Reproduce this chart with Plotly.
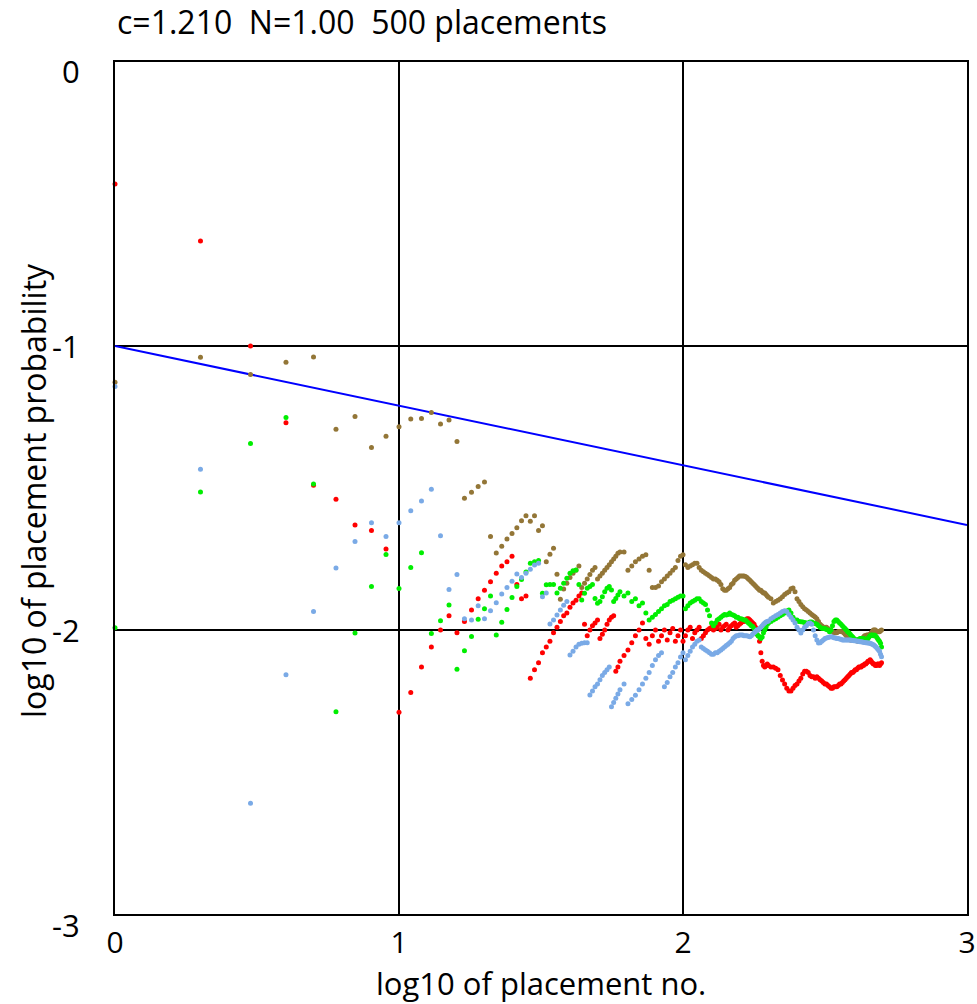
import plotly.graph_objects as go
import numpy as np

# ---------------- data ----------------
c_value = 1.210
N_value = 1.00
n_placements = 500

placements = list(range(1, 61)) + list(range(62, 201, 2)) + list(range(204, 501, 4))

# log10 of placement probability, one list per run
red_vals = [
    -0.43, -0.63, -1.00, -1.27, -1.49, -1.54, -1.63, -1.65, -1.715, -2.29,
    -2.22, -2.13, -2.06, -2.00, -1.95, -2.01, -1.97, -1.93, -1.89, -1.86,
    -1.83, -1.80, -1.775, -1.76, -1.74, -1.84, -1.89, -1.88, -2.17, -2.14,
    -2.115, -2.08, -2.06, -2.04, -2.01, -1.99, -1.97, -1.95, -1.94, -1.92,
    -1.905, -1.895, -1.88, -1.87, -1.98, -2.02, -2.00, -1.985, -1.975, -1.965,
    -2.03, -2.015, -2.00, -1.98, -1.965, -1.955, -1.95, -2.145, -2.13, -2.11,
    -2.09, -2.07, -2.045, -2.02, -2.00, -1.975, -2.03, -2.05, -2.02, -2.00,
    -2.04, -2.02, -2.00, -2.035, -2.01, -1.995, -2.04, -2.02, -2.00, -2.04,
    -2.02, -2.00, -1.99, -2.03, -2.01, -2.00, -1.99, -2.03, -2.02, -2.01,
    -2.00, -1.995, -1.99, -2.00, -1.995, -1.99, -1.98, -2.00, -1.99, -1.985,
    -1.98, -2.00, -1.99, -1.985, -1.98, -1.975, -1.99, -1.985, -1.98, -1.975,
    -1.97, -1.97, -1.965, -1.96, -1.96, -1.965, -1.97, -1.975, -1.98, -1.99,
    -2.00, -2.02, -2.04, -2.08, -2.11, -2.125, -2.13, -2.125, -2.12, -2.125,
    -2.13, -2.13, -2.135, -2.14, -2.16, -2.176, -2.19, -2.205, -2.215, -2.215,
    -2.205, -2.195, -2.19, -2.18, -2.17, -2.155, -2.145, -2.145, -2.15, -2.16,
    -2.165, -2.165, -2.17, -2.165, -2.17, -2.175, -2.18, -2.185, -2.19, -2.19,
    -2.195, -2.20, -2.205, -2.205, -2.20, -2.20, -2.20, -2.195, -2.19, -2.19,
    -2.185, -2.18, -2.175, -2.17, -2.165, -2.16, -2.155, -2.15, -2.15, -2.145,
    -2.14, -2.14, -2.135, -2.13, -2.13, -2.13, -2.125, -2.125, -2.12, -2.12,
    -2.115, -2.11, -2.11, -2.105, -2.11, -2.115, -2.12, -2.12, -2.125, -2.125,
    -2.12, -2.12, -2.125, -2.12, -2.115,
]

brown_vals = [
    -1.128, -1.04, -1.10, -1.057, -1.039, -1.293, -1.248, -1.357, -1.318, -1.284,
    -1.257, -1.255, -1.234, -1.275, -1.261, -1.336, -1.536, -1.515, -1.495, -1.479,
    -1.671, -1.729, -1.705, -1.68, -1.66, -1.64, -1.615, -1.598, -1.617, -1.598,
    -1.65, -1.633, -1.76, -1.733, -1.712, -1.804, -1.892, -1.856, -1.835, -1.815,
    -1.80, -1.79, -1.775, -1.85, -1.835, -1.82, -1.805, -1.79, -1.78, -1.82,
    -1.81, -1.80, -1.79, -1.78, -1.77, -1.76, -1.75, -1.74, -1.73, -1.725,
    -1.725, -1.79, -1.775, -1.76, -1.75, -1.74, -1.735, -1.79, -1.85, -1.85,
    -1.845, -1.83, -1.82, -1.81, -1.80, -1.79, -1.78, -1.755, -1.74, -1.735,
    -1.77, -1.78, -1.775, -1.77, -1.765, -1.765, -1.78, -1.79, -1.795, -1.80,
    -1.805, -1.81, -1.815, -1.82, -1.82, -1.825, -1.83, -1.84, -1.855, -1.86,
    -1.86, -1.855, -1.85, -1.84, -1.835, -1.825, -1.82, -1.815, -1.81, -1.81,
    -1.81, -1.81, -1.812, -1.815, -1.82, -1.825, -1.83, -1.835, -1.84, -1.845,
    -1.85, -1.855, -1.86, -1.86, -1.865, -1.87, -1.87, -1.875, -1.88, -1.885,
    -1.89, -1.905, -1.90, -1.895, -1.89, -1.883, -1.875, -1.87, -1.865, -1.855,
    -1.852, -1.865, -1.89, -1.90, -1.91, -1.918, -1.925, -1.93, -1.935, -1.94,
    -1.945, -1.95, -1.954, -1.96, -1.97, -1.98, -1.985, -1.99, -1.99, -1.99,
    -1.995, -2.0, -2.0, -2.005, -2.01, -2.01, -2.01, -2.005, -2.005, -2.005,
    -2.006, -2.01, -2.015, -2.02, -2.025, -2.03, -2.035, -2.035, -2.035, -2.035,
    -2.035, -2.035, -2.04, -2.04, -2.035, -2.03, -2.03, -2.025, -2.02, -2.02,
    -2.018, -2.018, -2.018, -2.015, -2.01, -2.005, -2.0, -2.0, -2.0, -2.005,
    -2.005, -2.006, -2.006, -2.003, -2.0,
]

green_vals = [
    -1.992, -1.514, -1.343, -1.252, -1.486, -2.288, -2.011, -1.847, -1.734, -1.854,
    -1.78, -1.728, -2.012, -1.967, -1.912, -2.138, -2.073, -2.023, -1.962, -1.925,
    -1.88, -2.018, -1.973, -1.928, -1.886, -1.847, -1.822, -1.796, -1.765, -1.76,
    -1.755, -1.871, -1.841, -1.84, -1.84, -1.87, -1.853, -1.835, -1.818, -1.80,
    -1.791, -1.789, -1.84, -1.894, -1.871, -1.853, -1.847, -1.84, -1.889, -1.906,
    -1.90, -1.883, -1.865, -1.853, -1.847, -1.859, -1.90, -1.889, -1.877, -1.865,
    -1.88, -1.87, -1.90, -1.89, -1.915, -1.905, -1.94, -1.965, -1.955, -1.945,
    -1.935, -1.925, -1.915, -1.91, -1.90, -1.895, -1.89, -1.885, -1.88, -1.88,
    -1.925, -1.915, -1.905, -1.90, -1.895, -1.89, -1.89, -1.90, -1.905, -1.91,
    -1.93, -1.95, -1.975, -1.985, -1.975, -1.965, -1.96, -1.955, -1.95, -1.945,
    -1.947, -1.945, -1.94, -1.945, -1.947, -1.95, -1.955, -1.955, -1.96, -1.96,
    -1.962, -1.965, -1.965, -1.97, -1.975, -1.98, -1.985, -1.988, -1.995, -2.005,
    -2.015, -2.02, -2.025, -2.03, -2.025, -2.01, -2.0, -1.99, -1.98, -1.975,
    -1.97, -1.965, -1.96, -1.955, -1.95, -1.945, -1.94, -1.933, -1.93, -1.94,
    -1.955, -1.965, -1.965, -1.97, -1.971, -1.972, -1.974, -1.975, -1.975, -1.972,
    -1.972, -1.975, -1.977, -1.98, -1.985, -1.99, -1.994, -1.995, -1.995, -1.998,
    -2.0, -2.006, -2.0, -1.985, -1.97, -1.965, -1.965, -1.97, -1.975, -1.98,
    -1.985, -1.99, -1.995, -2.0, -2.006, -2.01, -2.015, -2.02, -2.025, -2.03,
    -2.035, -2.035, -2.035, -2.033, -2.03, -2.03, -2.03, -2.03, -2.032, -2.035,
    -2.035, -2.03, -2.025, -2.02, -2.018, -2.018, -2.02, -2.018, -2.02, -2.025,
    -2.03, -2.035, -2.04, -2.047, -2.06,
]

blue_vals = [
    -1.143, -1.434, -2.61, -2.158, -1.935, -1.782, -1.688, -1.622, -1.671, -1.622,
    -1.58, -1.546, -1.504, -1.668, -1.857, -1.805, -1.96, -1.965, -1.915, -1.96,
    -1.932, -1.904, -1.873, -1.85, -1.828, -1.803, -1.815, -1.80, -1.786, -1.771,
    -1.765, -1.883, -1.87, -1.979, -1.965, -1.947, -1.93, -1.913, -1.90, -2.088,
    -2.075, -2.06, -2.05, -2.047, -2.045, -2.045, -2.229, -2.215, -2.20, -2.19,
    -2.175, -2.16, -2.15, -2.14, -2.13, -2.27, -2.255, -2.24, -2.225, -2.21,
    -2.19, -2.26, -2.245, -2.23, -2.21, -2.19, -2.17, -2.15, -2.125, -2.105,
    -2.09, -2.08, -2.20, -2.185, -2.165, -2.15, -2.13, -2.115, -2.095, -2.08,
    -2.105, -2.09, -2.075, -2.06, -2.05, -2.04, -2.035, -2.06, -2.065, -2.07,
    -2.075, -2.08, -2.085, -2.085, -2.08, -2.08, -2.075, -2.07, -2.065, -2.06,
    -2.055, -2.05, -2.045, -2.04, -2.03, -2.025, -2.02, -2.02, -2.018, -2.018,
    -2.018, -2.02, -2.02, -2.02, -2.022, -2.024, -2.02, -2.015, -2.01, -2.005,
    -2.0, -2.0, -1.995, -1.99, -1.985, -1.98, -1.975, -1.972, -1.97, -1.968,
    -1.96, -1.955, -1.95, -1.945, -1.94, -1.935, -1.932, -1.935, -1.945, -1.955,
    -1.965, -1.975, -1.99, -2.0, -2.011, -2.0, -1.99, -1.985, -1.977, -1.975,
    -1.98, -2.0, -2.02, -2.035, -2.046, -2.045, -2.04, -2.035, -2.03, -2.028,
    -2.026, -2.025, -2.024, -2.025, -2.027, -2.028, -2.03, -2.03, -2.032, -2.033,
    -2.035, -2.035, -2.035, -2.035, -2.035, -2.035, -2.035, -2.036, -2.037, -2.038,
    -2.038, -2.039, -2.04, -2.04, -2.041, -2.041, -2.042, -2.043, -2.044, -2.045,
    -2.045, -2.046, -2.046, -2.047, -2.048, -2.05, -2.052, -2.055, -2.058, -2.062,
    -2.066, -2.07, -2.075, -2.085, -2.094,
]

series = [
    ("red", red_vals, "#ff0000"),
    ("brown", brown_vals, "#937637"),
    ("green", green_vals, "#00ee00"),
    ("blue", blue_vals, "#7aaae6"),
]

x_ticks = [0, 1, 2, 3]
y_ticks = [0, -1, -2, -3]

# ---------------- figure ----------------
log_n = np.log10(np.array(placements, dtype=float))

fig = go.Figure()

# reference line  log10 p = -1 - (c-1) * log10 n
ref_x = np.array([0.0, 3.0])
ref_y = -1.0 - (c_value - 1.0) * ref_x
fig.add_trace(go.Scatter(x=ref_x, y=ref_y, mode="lines",
                         line=dict(color="#0000ff", width=2), showlegend=False,
                         hoverinfo="skip"))

for name, vals, col in series:
    if len(vals) != len(placements):
        raise ValueError(f"{name}: {len(vals)} values vs {len(placements)} placements")
    fig.add_trace(go.Scatter(x=log_n, y=vals, mode="markers", name=name,
                             marker=dict(color=col, size=5, line=dict(width=0)),
                             showlegend=False, cliponaxis=False))

font_family = "Open Sans, Liberation Sans, sans-serif"
TXT = 32

axis_common = dict(
    showgrid=True, gridcolor="black", gridwidth=2,
    showline=True, mirror=True, linecolor="black", linewidth=2,
    zeroline=False, ticks="", automargin=False,
    tickfont=dict(size=30, color="black", family=font_family),
)

PLOT_H = 852.0
PLOT_W = 852.0

# y tick labels as annotations (the end labels sit a little inside in the original)
y_label_shift = {0: -9, -1: 0, -2: 0, -3: -11}
y_tick_annotations = [
    dict(text=str(t), xref="paper", yref="y", x=0, y=t, xanchor="right", yanchor="middle",
         xshift=-33, yshift=y_label_shift[t], showarrow=False,
         font=dict(size=31, color="black", family=font_family))
    for t in y_ticks
]

fig.update_layout(
    width=977, height=1004,
    margin=dict(l=115, r=10, t=62, b=90, autoexpand=False),
    paper_bgcolor="white", plot_bgcolor="white",
    font=dict(family=font_family, color="black"),
    xaxis=dict(range=[0, 3], tickvals=x_ticks, ticktext=[str(t) for t in x_ticks],
               ticklabelstandoff=1, **axis_common),
    yaxis=dict(range=[-3, 0], tickvals=y_ticks, showticklabels=False, **axis_common),
    annotations=y_tick_annotations + [
        dict(text=f"c={c_value:.3f}  N={N_value:.2f}  {n_placements} placements",
             xref="paper", yref="paper", x=0, y=1 + 40 / PLOT_H,
             xanchor="left", yanchor="middle", showarrow=False,
             font=dict(size=TXT, color="black", family=font_family)),
        dict(text="log10 of placement no.",
             xref="paper", yref="paper", x=0.5, y=-(983 - 914) / PLOT_H,
             xanchor="center", yanchor="middle", showarrow=False,
             font=dict(size=31, color="black", family=font_family)),
        dict(text="log10 of placement probability",
             xref="paper", yref="paper", x=-(115 - 33) / PLOT_W, y=0.5 - (488 - 485) / PLOT_H,
             xanchor="center", yanchor="middle", textangle=-90, showarrow=False,
             font=dict(size=TXT, color="black", family=font_family)),
    ],
)

fig.write_html(
    "out.html",
    config={"displayModeBar": False},
    post_script="document.body.style.margin='0px';document.body.style.overflow='hidden';",
)
